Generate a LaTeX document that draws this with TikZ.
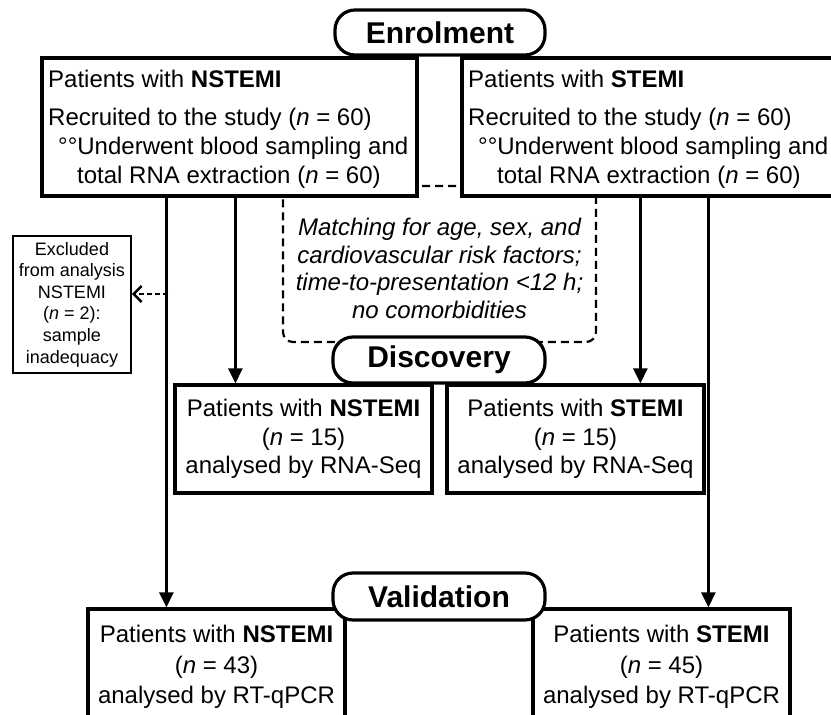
\documentclass[tikz,border=0pt]{standalone}
\usepackage{fontspec}
\setmainfont{Liberation Sans}
\usetikzlibrary{arrows.meta,calc}
\tikzset{
 box/.style={draw, line width=3.2pt, fill=white, inner sep=0pt},
 thinbox/.style={draw, line width=1.8pt, fill=white, inner sep=0pt, align=center, font=\fontsize{18}{21.6}\selectfont},
 pill/.style={draw, line width=3.2pt, fill=white, rounded corners=20pt, inner sep=0pt, font=\fontsize{30}{34}\selectfont\bfseries},
 txt/.style={anchor=base west, inner sep=0pt, font=\fontsize{24}{28}\selectfont},
 dtxt/.style={align=center, font=\fontsize{24}{28.5}\selectfont},
 vtxt/.style={align=center, font=\fontsize{24}{30.5}\selectfont},
 mtxt/.style={align=center, inner sep=0pt, font=\fontsize{24}{27.5}\selectfont\itshape},
 arr/.style={line width=2.5pt, -{Triangle[width=14pt,length=15pt]}},
 darr/.style={line width=2.4pt, dash pattern=on 5pt off 3pt, -{Straight Barb[length=8pt,width=16pt,line width=2.4pt]}},
 dashbox/.style={draw, line width=2.2pt, dash pattern=on 8pt off 5pt, rounded corners=10pt, inner sep=0pt},
}
\begin{document}
\begin{tikzpicture}[x=1pt,y=-1pt]
\useasboundingbox (0,0) rectangle (831,715);
% matching frame (top hidden behind boxes)
\node[dashbox, minimum width=313pt, minimum height=156pt] (mbox) at (439.5,264) {};
\node[mtxt] (mtext) at (439.5,268.5) {Matching for age, sex, and\\cardiovascular risk factors;\\time-to-presentation <12 h;\\no comorbidities};
% enrolment boxes
\node[box, minimum width=375pt, minimum height=138pt] (nbox) at (229.5,127) {};
\node[box, minimum width=375pt, minimum height=138pt] (sbox) at (649.5,127) {};
\node[txt] (n1) at (48,87) {Patients with \textbf{NSTEMI}};
\node[txt] (n2) at (48,125) {Recruited to the study (\textit{n} = 60)};
\node[txt] (n3) at (58,154) {°°Underwent blood sampling and};
\node[txt] (n4) at (77,183) {total RNA extraction (\textit{n} = 60)};
\node[txt] (s1) at (468,87) {Patients with \textbf{STEMI}};
\node[txt] (s2) at (468,125) {Recruited to the study (\textit{n} = 60)};
\node[txt] (s3) at (478,154) {°°Underwent blood sampling and};
\node[txt] (s4) at (497,183) {total RNA extraction (\textit{n} = 60)};
% discovery boxes
\node[box, dtxt, minimum width=257pt, minimum height=108pt] (dn) at (303.5,439) {Patients with \textbf{NSTEMI}\\(\textit{n} = 15)\\analysed by RNA-Seq};
\node[box, dtxt, minimum width=257pt, minimum height=108pt] (ds) at (575.5,439) {Patients with \textbf{STEMI}\\(\textit{n} = 15)\\analysed by RNA-Seq};
% validation boxes
\node[box, vtxt, minimum width=257pt, minimum height=116pt] (vn) at (216.5,667) {Patients with \textbf{NSTEMI}\\(\textit{n} = 43)\\analysed by RT-qPCR};
\node[box, vtxt, minimum width=257pt, minimum height=116pt] (vs) at (661.5,667) {Patients with \textbf{STEMI}\\(\textit{n} = 45)\\analysed by RT-qPCR};
% excluded
\node[thinbox, minimum width=118pt, minimum height=137pt] (ex) at (72,304.5) {Excluded\\from analysis\\NSTEMI\\(\textit{n} = 2):\\sample\\inadequacy};
% arrows
\draw[arr] ($(nbox.south west)+(126,0)$) coordinate (a1) -- (a1 |- vn.north);
\draw[arr] ($(nbox.south west)+(195,0)$) coordinate (a2) -- (a2 |- dn.north);
\draw[arr] ($(sbox.south west)+(180,0)$) coordinate (a3) -- (a3 |- ds.north);
\draw[arr] ($(sbox.south west)+(248,0)$) coordinate (a4) -- (a4 |- vs.north);
\coordinate (q) at (168,294);
\draw[darr] (q) -- (q -| ex.east);
% stage pills
\node[pill, minimum width=210pt, minimum height=45pt] (enr) at (440,32.5) {Enrolment};
\node[pill, minimum width=212pt, minimum height=46pt] (disc) at (439,360) {Discovery};
\node[pill, minimum width=212pt, minimum height=47pt] (val) at (439,596.5) {Validation};
\end{tikzpicture}
\end{document}
